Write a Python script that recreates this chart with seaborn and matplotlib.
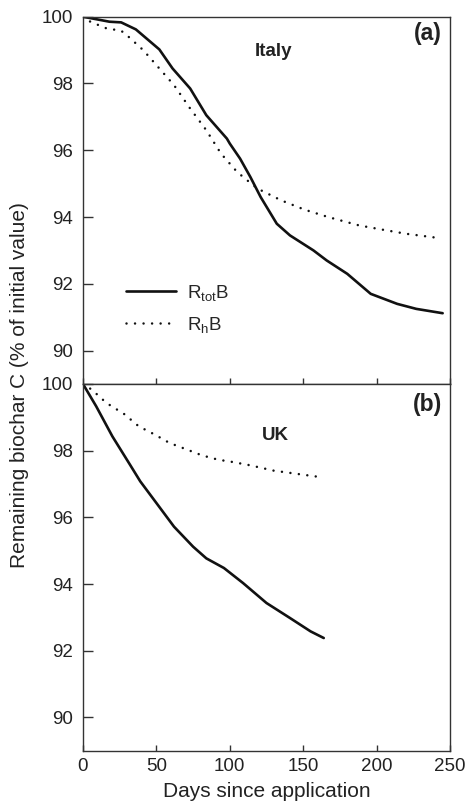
import numpy as np
import pandas as pd
import matplotlib
matplotlib.use("Agg")
import matplotlib.pyplot as plt
import seaborn as sns

sns.set_style("ticks")
plt.rcParams['font.family'] = ['Liberation Sans', 'DejaVu Sans']
plt.rcParams['mathtext.default'] = 'regular'

# Italy (a)
italy_tot_days = [0, 18, 26, 36, 52, 61, 73, 84, 98, 100, 107, 114, 121, 132, 141, 157, 166, 180, 196, 214, 227, 245]
italy_tot_vals = [100, 99.85, 99.83, 99.62, 99.02, 98.45, 97.85, 97.05, 96.35, 96.2, 95.75, 95.2, 94.6, 93.8, 93.45, 93.0, 92.7, 92.3, 91.7, 91.4, 91.25, 91.12]
italy_h_days = [0, 5, 16, 26, 31, 41, 50, 62, 73, 84, 94, 104, 109, 119, 135, 151, 167, 188, 203, 220, 241]
italy_h_vals = [100, 99.85, 99.65, 99.58, 99.4, 99.0, 98.55, 97.95, 97.25, 96.6, 95.9, 95.4, 95.2, 94.85, 94.5, 94.22, 94.0, 93.75, 93.63, 93.5, 93.38]
# UK (b)
uk_tot_days = [0, 9, 20, 32, 39, 50, 62, 75, 84, 96, 109, 125, 141, 155, 164]
uk_tot_vals = [100, 99.33, 98.43, 97.58, 97.08, 96.43, 95.72, 95.12, 94.77, 94.48, 94.03, 93.43, 92.98, 92.58, 92.38]
uk_h_days = [0, 6, 16, 28, 38, 49, 59, 71, 81, 92, 102, 114, 130, 163]
uk_h_vals = [100, 99.83, 99.43, 99.1, 98.73, 98.48, 98.23, 98.03, 97.86, 97.73, 97.66, 97.56, 97.4, 97.2]

x_ticks = [0, 50, 100, 150, 200, 250]
y_ticks = [90, 92, 94, 96, 98, 100]

fig = plt.figure(figsize=(4.69, 8.02), dpi=100)
left, right = 83 / 469, 450 / 469
top_a = 1 - 16.7 / 802
mid = 1 - 384 / 802
bot_b = 1 - 750.7 / 802
ax_a = fig.add_axes([left, mid, right - left, top_a - mid])
ax_b = fig.add_axes([left, bot_b, right - left, mid - bot_b])

dot_style = dict(linestyle=(0, (0.01, 3.4)), linewidth=1.8, dash_capstyle='round', color='#111111')
solid_style = dict(linestyle='-', linewidth=1.9, color='#111111')

def draw(ax, td, tv, hd, hv):
    dft = pd.DataFrame({'day': td, 'val': tv})
    dfh = pd.DataFrame({'day': hd, 'val': hv})
    sns.lineplot(data=dft, x='day', y='val', ax=ax, label='R$_{tot}$B', **solid_style)
    sns.lineplot(data=dfh, x='day', y='val', ax=ax, label='R$_{h}$B', **dot_style)
    ax.set_xlim(0, 250)
    ax.set_ylim(89, 100)
    ax.set_xticks(x_ticks)
    ax.set_yticks(y_ticks)
    ax.set_xlabel('')
    ax.set_ylabel('')
    ax.tick_params(axis='y', direction='in', length=7.2, width=1, labelsize=13.5, colors='#333333', labelcolor='#222222', pad=7)
    ax.tick_params(axis='x', direction='in', length=4, width=1, labelsize=13.5, colors='#333333', labelcolor='#222222', pad=5)
    for s in ax.spines.values():
        s.set_color('#333333')
        s.set_linewidth(1.0)

draw(ax_a, italy_tot_days, italy_tot_vals, italy_h_days, italy_h_vals)
draw(ax_b, uk_tot_days, uk_tot_vals, uk_h_days, uk_h_vals)

ax_a.tick_params(axis='x', labelbottom=False)
ax_b.get_legend().remove()
leg = ax_a.legend(loc='lower left', bbox_to_anchor=(0.07, 0.088), frameon=False, fontsize=13.5,
                  handlelength=2.7, handletextpad=0.55, labelspacing=0.65)

ax_a.text(0.52, 0.905, 'Italy', transform=ax_a.transAxes, fontsize=13.5, fontweight='bold', ha='center', va='center', color='#222222')
ax_a.text(0.978, 0.955, '(a)', transform=ax_a.transAxes, fontsize=16.5, fontweight='bold', ha='right', va='center', color='#222222')
ax_b.text(0.525, 0.86, 'UK', transform=ax_b.transAxes, fontsize=13.5, fontweight='bold', ha='center', va='center', color='#222222')
ax_b.text(0.978, 0.945, '(b)', transform=ax_b.transAxes, fontsize=16.5, fontweight='bold', ha='right', va='center', color='#222222')

fig.text((left + right) / 2, 1 - 791.5 / 802, 'Days since application', fontsize=15,
         ha='center', va='center', color='#222222')
fig.text(20 / 469, 1 - 385 / 802, 'Remaining biochar C (% of initial value)', rotation=90,
         fontsize=15, ha='center', va='center', color='#222222')

fig.savefig('out.png', dpi=100)
